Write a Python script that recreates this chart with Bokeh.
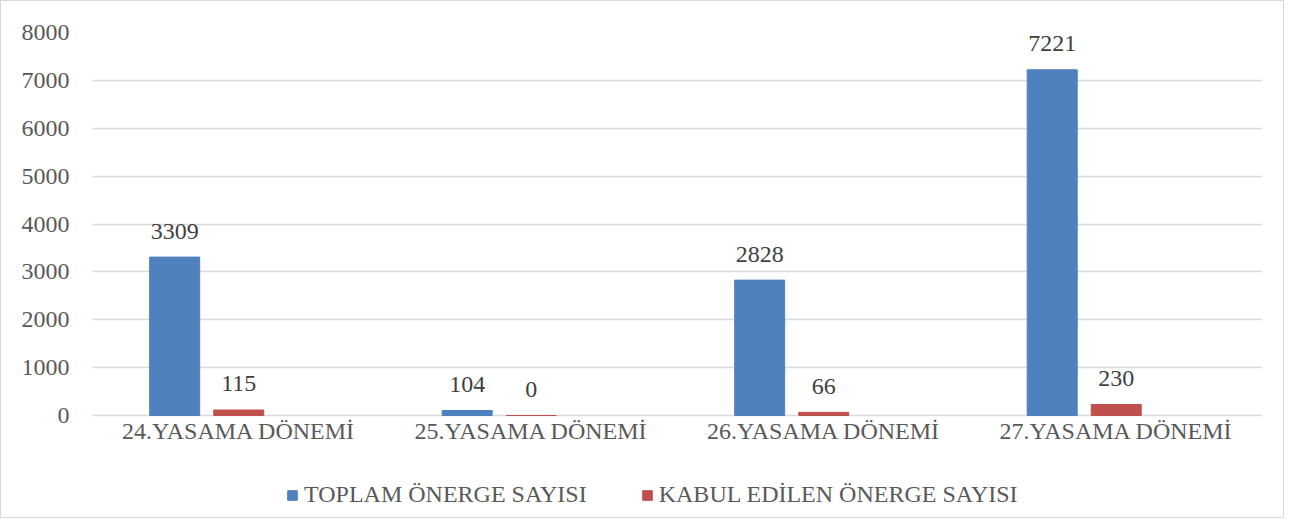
from bokeh.plotting import figure
from bokeh.models import ColumnDataSource, FactorRange, Range1d, Legend, LegendItem, FixedTicker
from bokeh.transform import dodge
from bokeh.core.properties import value
from bokeh.embed import file_html
from bokeh.resources import INLINE

categories = ["24.YASAMA DÖNEMİ", "25.YASAMA DÖNEMİ", "26.YASAMA DÖNEMİ", "27.YASAMA DÖNEMİ"]
toplam = [3309, 104, 2828, 7221]
kabul = [115, 0, 66, 230]
series_names = ["TOPLAM ÖNERGE SAYISI", "KABUL EDİLEN ÖNERGE SAYISI"]
y_ticks = [0, 1000, 2000, 3000, 4000, 5000, 6000, 7000, 8000]
Y_MAX = 8000

BLUE = "#4F81BD"
RED = "#C0504D"
TXT = "#595959"
LBL = "#404040"
GRID = "#d9d9d9"
FONT = "Liberation Serif"
FS = "24px"

# layout (pixels)
W, H = 1284, 518
TOP, LEFT, RIGHT = 31, 91, 23
PLOT_H = 383                 # pixels from the 8000 line down to the 0 line
FRAME_H = H - TOP            # frame reaches the bottom so the legend fits inside it
LABEL_GAP = 34               # category label baseline below the 0 line
px_per_unit = PLOT_H / Y_MAX
y_start = -(FRAME_H - PLOT_H) / px_per_unit
label_line = -LABEL_GAP / px_per_unit

src = ColumnDataSource(dict(
    cat=categories,
    toplam=toplam,
    kabul=kabul,
    toplam_s=[str(v) for v in toplam],
    kabul_s=[str(v) for v in kabul],
))

p = figure(
    x_range=FactorRange(*categories, range_padding=0),
    y_range=Range1d(y_start, Y_MAX),
    width=W, height=H, x_axis_location="above",
    output_backend="svg", toolbar_location=None,
    min_border_left=LEFT, min_border_right=RIGHT, min_border_top=TOP, min_border_bottom=0,
)
p.styles = {"border": "1px solid #d9d9d9"}

off_blue = -0.219
off_red = 0.0
bw = 0.171

r1 = p.vbar(x=dodge("cat", off_blue, range=p.x_range), top="toplam", bottom=0, width=bw,
            source=src, fill_color=BLUE, line_color=BLUE)
r2 = p.vbar(x=dodge("cat", off_red, range=p.x_range), top="kabul", bottom=0, width=bw,
            source=src, fill_color=RED, line_color=RED)

p.text(x=dodge("cat", off_blue, range=p.x_range), y="toplam", text="toplam_s", source=src,
       text_align="center", text_baseline="alphabetic", y_offset=-26,
       text_font=value(FONT), text_font_size=FS, text_color=LBL)
p.text(x=dodge("cat", off_red, range=p.x_range), y="kabul", text="kabul_s", source=src,
       text_align="center", text_baseline="alphabetic", y_offset=-26,
       text_font=value(FONT), text_font_size=FS, text_color=LBL)

p.xgrid.grid_line_color = None
p.ygrid.grid_line_color = GRID
p.ygrid.grid_line_width = 1.5
p.ygrid.ticker = FixedTicker(ticks=y_ticks)
p.yaxis.ticker = FixedTicker(ticks=y_ticks)
p.yaxis.axis_line_color = None
p.yaxis.major_tick_line_color = None
p.yaxis.minor_tick_line_color = None
p.yaxis.major_label_standoff = 17

# category axis pinned under the 0 line; its labels sit above its (hidden) line
p.xaxis.fixed_location = label_line
p.xaxis.axis_line_color = None
p.xaxis.major_tick_line_color = None
p.xaxis.minor_tick_line_color = None
p.xaxis.major_label_standoff = 0
for ax in (p.xaxis, p.yaxis):
    ax.major_label_text_font = FONT
    ax.major_label_text_font_size = FS
    ax.major_label_text_color = TXT
p.outline_line_color = None

legend = Legend(
    items=[LegendItem(label=series_names[0], renderers=[r1]),
           LegendItem(label=series_names[1], renderers=[r2])],
    orientation="horizontal", location=(194, 11),
    glyph_width=12, glyph_height=12, label_standoff=6, spacing=54,
    padding=0, margin=0, border_line_color=None, background_fill_alpha=0,
    label_text_font=FONT, label_text_font_size=FS, label_text_color=TXT,
)
p.add_layout(legend, "center")

open("out.html", "w").write(file_html(p, INLINE))
